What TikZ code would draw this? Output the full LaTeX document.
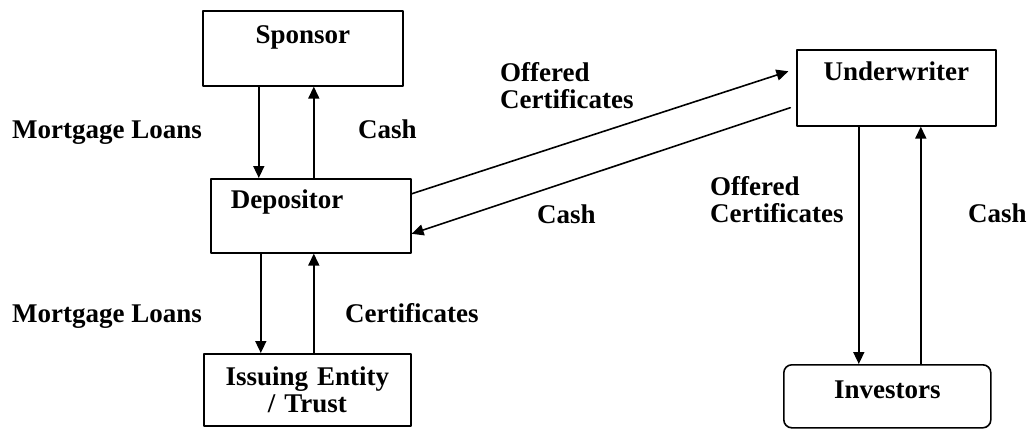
\documentclass[tikz,border=0pt]{standalone}
\usepackage{fontspec}
\setmainfont{Liberation Serif}
\usetikzlibrary{arrows.meta,calc,positioning}

\begin{document}
\begin{tikzpicture}[
  x=1pt, y=-1pt,
  line cap=round,
  line join=round,
  font=\bfseries\fontsize{27}{27}\selectfont,
  party/.style={draw=black, line width=1.6pt, inner sep=0pt, anchor=north west, align=center},
  flow/.style={-{Triangle[length=12pt,width=11pt]}, line width=1.6pt, draw=black},
  flowlabel/.style={inner sep=0pt, anchor=base west, align=left}
]
\useasboundingbox (0,0) rectangle (1028,437);

% Parties.
\node[party, text width=200pt, text height=33pt, text depth=42pt] (sponsor) at (202,10) {Sponsor};
\node[party, text width=200pt, text height=30pt, text depth=44pt, align=left] (depositor) at (210,178) {\hspace*{20pt}Depositor};
\node[party, text width=207pt, text height=32pt, text depth=40pt] (issuer) at (203,353) {Issuing Entity\\/ Trust};
\node[party, text width=199pt, text height=31pt, text depth=45pt] (underwriter) at (796,49) {Underwriter};
\node[party, rounded corners=8pt, text width=207pt, text height=34pt, text depth=29pt] (investors) at (783,364) {Investors};

% Sponsor and depositor.
\draw[flow] ($(sponsor.south)+(-44,0)$) -- ($(sponsor.south |- depositor.north)+(-44,0)$);
\draw[flow] ($(sponsor.south |- depositor.north)+(11,0)$) -- ($(sponsor.south)+(11,0)$);

% Depositor and issuing entity.
\draw[flow] ($(depositor.south)+(-50,0)$) -- ($(depositor.south |- issuer.north)+(-50,0)$);
\draw[flow] ($(depositor.south |- issuer.north)+(3,0)$) -- ($(depositor.south)+(3,0)$);

% Depositor and underwriter.
\draw[flow, shorten >=8pt] ($(depositor.east)+(0,-22)$) -- ($(underwriter.west)+(0,-19)$);
\draw[flow, shorten <=6pt] ($(underwriter.west)+(0,18)$) -- ($(depositor.east)+(0,18)$);

% Underwriter and investors.
\draw[flow] ($(underwriter.south)+(-37.5,0)$) -- ($(underwriter.south |- investors.north)+(-37.5,0)$);
\draw[flow] ($(underwriter.south |- investors.north)+(24.5,0)$) -- ($(underwriter.south)+(24.5,0)$);

% Flow labels.
\node[flowlabel] (loansTop) at (12,138) {Mortgage Loans};
\node[flowlabel] (cashTop) at (358,138) {Cash};
\node[flowlabel] (loansLow) at (12,322) {Mortgage Loans};
\node[flowlabel] (certsLow) at (345,322) {Certificates};
\node[flowlabel] (offeredTop) at (500,108) {Offered\\Certificates};
\node[flowlabel] (cashMid) at (537,223) {Cash};
\node[flowlabel] (offeredRight) at (710,222) {Offered\\Certificates};
\node[flowlabel] (cashRight) at (968,222) {Cash};

\end{tikzpicture}
\end{document}
